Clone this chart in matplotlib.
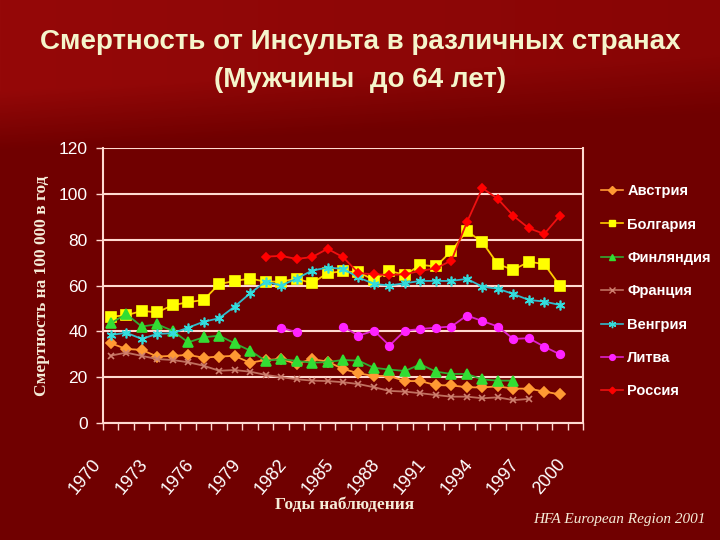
import matplotlib
matplotlib.use("Agg")
import matplotlib.pyplot as plt
import numpy as np
from matplotlib.ticker import FixedLocator, NullFormatter
from matplotlib.lines import Line2D

nan = np.nan

# years on the category axis (1970..2000), data up to 1999
years = list(range(1970, 2001))
tick_years = [1970, 1973, 1976, 1979, 1982, 1985, 1988, 1991, 1994, 1997, 2000]

austria = [34.8, 32.3, 31.9, 29.0, 29.3, 29.7, 28.5, 29.0, 29.3, 26.3,
           27.5, 27.9, 25.8, 27.9, 26.8, 23.6, 21.7, 20.5, 20.5, 18.3,
           18.3, 16.5, 16.4, 15.6, 15.5, 16.0, 15.0, 15.0, 13.7, 12.5]
bulgaria = [46.4, 47.0, 48.9, 48.3, 51.4, 52.7, 53.7, 60.6, 62.0, 63.0,
            61.7, 61.7, 63.0, 61.0, 65.4, 66.2, 65.8, 62.4, 66.4, 64.6,
            69.0, 68.3, 75.1, 83.8, 78.9, 69.3, 66.8, 70.4, 69.3, 60.0]
finland = [43.5, 47.6, 42.1, 43.1, 40.2, 35.2, 37.4, 38.1, 34.8, 31.6,
           27.1, 27.9, 27.1, 26.3, 26.6, 27.5, 27.2, 24.1, 23.3, 22.7,
           25.6, 22.4, 21.4, 21.4, 19.0, 18.5, 18.5, nan, nan, nan]
france = [29.4, 30.7, 29.3, 27.9, 27.5, 26.5, 25.0, 22.8, 23.1, 22.4,
          21.0, 20.0, 19.1, 18.5, 18.3, 17.8, 17.0, 15.6, 14.0, 13.7,
          13.0, 12.2, 11.5, 11.5, 10.8, 11.2, 10.0, 10.5, nan, nan]
hungary = [38.4, 39.4, 36.7, 38.9, 39.2, 41.6, 44.2, 45.7, 50.8, 56.6,
           61.7, 60.0, 63.0, 66.5, 67.8, 67.3, 63.5, 60.7, 60.0, 61.0,
           62.0, 62.0, 62.0, 62.9, 59.5, 58.6, 56.3, 53.7, 53.0, 51.5]
lithuania = [nan, nan, nan, nan, nan, nan, nan, nan, nan, nan,
             nan, 41.6, 39.6, nan, nan, 42.1, 38.1, 40.3, 33.8, 40.3,
             41.0, 41.6, 42.1, 46.9, 44.5, 42.1, 36.7, 37.0, 33.3, 30.0]
russia = [nan, nan, nan, nan, nan, nan, nan, nan, nan, nan,
          72.6, 72.9, 71.6, 72.4, 76.0, 72.4, 65.4, 64.9, 64.6, 64.9,
          66.4, 67.5, 70.9, 87.6, 102.5, 97.8, 90.4, 85.0, 82.5, 90.4]

names = ["Австрия", "Болгария", "Финляндия", "Франция", "Венгрия", "Литва", "Россия"]
series = [austria, bulgaria, finland, france, hungary, lithuania, russia]
# (line colour, marker, marker colour, marker size)
styles = [("#ff9933", "D", "#ff9933", 5),
          ("#ffcc00", "s", "#ffff00", 6.5),
          ("#33aa33", "^", "#33dd33", 6.5),
          ("#c07060", "x", "#d08070", 5),
          ("#33bbcc", (6, 2, 0), "#33dddd", 7),
          ("#dd22cc", "o", "#ff22ff", 5.5),
          ("#ee1111", "D", "#ff0000", 4.5)]

fig = plt.figure(figsize=(7.2, 5.4), dpi=100)

# slide background: brighter red at the top, dark red below
bg = fig.add_axes([0, 0, 1, 1], zorder=-5)
h, w = 540, 720
yy, xx = np.mgrid[0:h, 0:w]
edge = 150 - 0.05 * xx
t = np.clip((edge - yy) / 60.0, 0, 1)
t = t * (1 - 0.35 * xx / w)
dark = np.array([0x70, 0x00, 0x00]) / 255
light = np.array([0x95, 0x08, 0x08]) / 255
img = dark[None, None, :] * (1 - t[..., None]) + light[None, None, :] * t[..., None]
bg.imshow(img, aspect="auto", extent=[0, 1, 0, 1])
bg.axis("off")

ax = fig.add_axes([103 / 720, 1 - 423 / 540, 480 / 720, 275 / 540])
ax.patch.set_alpha(0)

x = np.arange(len(austria))
for name, vals, (lc, mk, mc, ms) in zip(names, series, styles):
    ax.plot(x, vals, color=lc, lw=1.3, marker=mk, markersize=ms,
            markerfacecolor=mc, markeredgecolor=mc, markeredgewidth=1.2, label=name)

ax.set_ylim(0, 120)
ax.set_yticks(range(0, 121, 20))
ax.yaxis.grid(True, color="#ffd9d0", lw=1.5)
ax.set_axisbelow(True)

# tick marks sit between categories
ax.xaxis.set_major_locator(FixedLocator(np.arange(-0.5, len(years), 1.0)))
ax.xaxis.set_major_formatter(NullFormatter())
ax.set_xlim(-0.5, len(years) - 0.5)
ax.tick_params(axis="x", which="major", length=5, color="#ffd9d0", width=1)
# rotated year labels end just left of their category
for yv in tick_years:
    ax.annotate(str(yv), xy=(years.index(yv), 0), xycoords=("data", "axes fraction"),
                xytext=(-9, -27.5), textcoords="offset points", rotation=50,
                ha="right", va="center", rotation_mode="anchor", fontsize=13,
                color="white", family="Liberation Sans", annotation_clip=False)

ax.tick_params(axis="y", length=5, color="#ffd9d0", width=1, labelcolor="white",
               labelsize=12.5, pad=6)
for lab in ax.get_yticklabels():
    lab.set_family("Liberation Sans")

for s in ["left", "bottom", "right"]:
    ax.spines[s].set_color("#ffd9d0")
    ax.spines[s].set_linewidth(1.5)
ax.spines["top"].set_visible(False)

ax.set_ylabel("Смертность на 100 000 в год", family="Liberation Serif",
              fontweight="bold", fontsize=12.5, color="#f5ecd8")
ax.yaxis.set_label_coords(-0.127, 0.5)
ax.set_xlabel("Годы наблюдения", family="Liberation Serif", fontweight="bold",
              fontsize=12.5, color="#f5ecd8")
ax.xaxis.set_label_coords(0.504, -0.298)
ax.xaxis.label.set_va("center")
ax.yaxis.label.set_va("center")

fig.text(0.5, 1 - 42 / 540, "Смертность от Инсульта в различных странах",
         ha="center", va="center", fontsize=20, fontweight="bold",
         color="#f5f5cc", family="Liberation Sans")
fig.text(0.5, 1 - 80 / 540, "(Мужчины  до 64 лет)",
         ha="center", va="center", fontsize=20, fontweight="bold",
         color="#f5f5cc", family="Liberation Sans")
fig.text(706 / 720, 1 - 519 / 540, "HFA European Region 2001", ha="right",
         va="center", fontsize=11, style="italic", color="#f5ecd8",
         family="Liberation Serif")

handles = []
for name, (lc, mk, mc, ms) in zip(names, styles):
    handles.append(Line2D([], [], color=lc, lw=1.2, marker=mk, markersize=ms * 0.75,
                          markerfacecolor=mc, markeredgecolor=mc))
leg = fig.legend(handles, names, loc="upper left", bbox_to_anchor=(588 / 720, 1 - 171 / 540),
                 frameon=False, labelspacing=1.33, handlelength=1.5, handletextpad=0.3,
                 prop={"family": "Liberation Sans", "weight": "bold", "size": 10.5})
for txt in leg.get_texts():
    txt.set_color("white")

fig.savefig("out.png", dpi=100)
